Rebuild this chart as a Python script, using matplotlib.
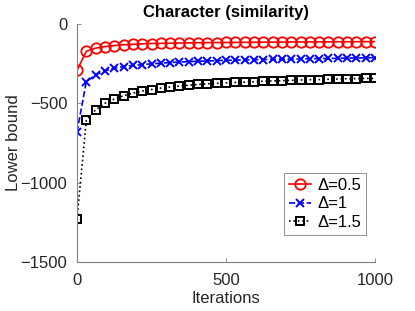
import numpy as np
import matplotlib
matplotlib.use("Agg")
import matplotlib.pyplot as plt

plt.rcParams['font.family'] = ['Liberation Sans', 'DejaVu Sans']

# iterations at which the bound was recorded
iters = np.linspace(0, 1000, 33)

bound_05 = [-292, -172, -152, -142, -136, -131, -128, -125, -123, -122, -121,
            -120, -119, -118, -117.5, -117, -116.5, -116, -115.5, -115, -114.5,
            -114, -113.8, -113.5, -113.2, -113, -112.7, -112.4, -112, -111.8,
            -111.5, -111.2, -111]
bound_1 = [-680, -363, -321, -295, -279, -268, -261, -256, -251, -247, -243,
           -240, -237, -235, -233, -231, -229, -228, -226, -225, -224, -223,
           -222, -221, -220, -219, -218, -217, -216, -215, -214, -213, -212]
bound_15 = [-1226, -608, -541, -500, -473, -452, -436, -423, -413, -404, -397,
            -391, -386, -381, -377, -374, -371, -368, -366, -364, -361, -359,
            -357, -355, -353, -351, -350, -348, -347, -345, -344, -343, -342]

labels = ['Δ=0.5', 'Δ=1', 'Δ=1.5']

fig = plt.figure(figsize=(4.15, 3.11), dpi=100)
ax = fig.add_axes([77/415, 49/311, 298/415, 238/311])

ax.plot(iters, bound_05, '-', color='red', marker='o', markersize=7.5,
        markerfacecolor='none', markeredgewidth=1.3, linewidth=1.2, label=labels[0])
ax.plot(iters, bound_1, '--', color='blue', marker='x', markersize=6,
        markeredgewidth=1.4, linewidth=1.2, label=labels[1])
ax.plot(iters, bound_15, ':', color='black', marker='s', markersize=6,
        markerfacecolor='none', markeredgewidth=1.4, linewidth=1.2, label=labels[2])

ax.set_xlim(0, 1000)
ax.set_ylim(-1500, 0)
ax.set_xticks([0, 500, 1000])
ax.set_yticks([-1500, -1000, -500, 0])

for s in ['top', 'right']:
    ax.spines[s].set_visible(False)
for s in ['left', 'bottom']:
    ax.spines[s].set_color('#808080')
    ax.spines[s].set_linewidth(0.8)
ax.tick_params(direction='in', length=3, width=0.6, colors='#808080',
               labelcolor='#262626', labelsize=12)
ax.tick_params(axis='x', pad=8)
ax.tick_params(axis='y', pad=7)

ax.set_title('Character (similarity)', fontsize=12, fontweight='bold', pad=5)
ax.set_xlabel('Iterations', fontsize=12, color='#262626', labelpad=2)
ax.set_ylabel('Lower bound', fontsize=12, color='#262626', labelpad=0)

leg = ax.legend(loc='lower right', bbox_to_anchor=(0.970, 0.113), fontsize=12,
                handlelength=1.3, handletextpad=0.4, labelspacing=0.22,
                borderpad=0.3, borderaxespad=0, fancybox=False, framealpha=1)
leg.get_frame().set_edgecolor('#808080')
leg.get_frame().set_linewidth(0.6)

fig.savefig('out.png', dpi=100)
